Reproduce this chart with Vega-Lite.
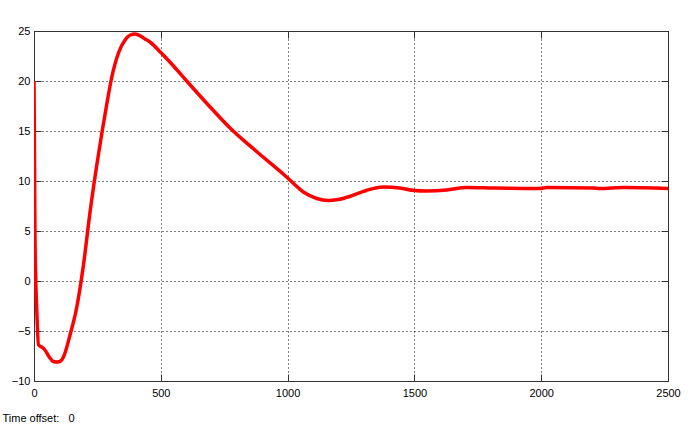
{
  "$schema": "https://vega.github.io/schema/vega-lite/v6.json",
  "width": 634,
  "height": 350,
  "autosize": {"type": "none"},
  "padding": {"left": 34, "top": 31, "right": 23, "bottom": 50},
  "background": "white",
  "data": {
    "values": [
      {"t": 0, "v": 20},
      {"t": 1.2, "v": 15.9},
      {"t": 2.8, "v": 8.6},
      {"t": 4, "v": 3.9},
      {"t": 10.6, "v": -2.7},
      {"t": 18, "v": -6.4},
      {"t": 30, "v": -6.6},
      {"t": 43, "v": -6.9},
      {"t": 60, "v": -7.6},
      {"t": 76, "v": -8.05},
      {"t": 90, "v": -8.1},
      {"t": 102, "v": -8.05},
      {"t": 116, "v": -7.6},
      {"t": 142, "v": -5.4},
      {"t": 168, "v": -2.7},
      {"t": 195, "v": 1.6},
      {"t": 221, "v": 6.9},
      {"t": 247, "v": 11.5},
      {"t": 267, "v": 14.7},
      {"t": 287, "v": 17.7},
      {"t": 306, "v": 20.3},
      {"t": 333, "v": 22.8},
      {"t": 359, "v": 24.1},
      {"t": 380, "v": 24.6},
      {"t": 398, "v": 24.7},
      {"t": 420, "v": 24.5},
      {"t": 438, "v": 24.2},
      {"t": 457, "v": 23.9},
      {"t": 500, "v": 22.85},
      {"t": 550, "v": 21.5},
      {"t": 602, "v": 20.0},
      {"t": 680, "v": 17.8},
      {"t": 773, "v": 15.3},
      {"t": 880, "v": 12.9},
      {"t": 996, "v": 10.4},
      {"t": 1062, "v": 8.9},
      {"t": 1115, "v": 8.25},
      {"t": 1160, "v": 8.05},
      {"t": 1200, "v": 8.15},
      {"t": 1250, "v": 8.5},
      {"t": 1310, "v": 9.05},
      {"t": 1377, "v": 9.4},
      {"t": 1443, "v": 9.3},
      {"t": 1500, "v": 9.05},
      {"t": 1548, "v": 9.0},
      {"t": 1627, "v": 9.1},
      {"t": 1706, "v": 9.35},
      {"t": 1811, "v": 9.3},
      {"t": 1995, "v": 9.25},
      {"t": 2022, "v": 9.35},
      {"t": 2206, "v": 9.3},
      {"t": 2232, "v": 9.25},
      {"t": 2324, "v": 9.35},
      {"t": 2500, "v": 9.25}
    ]
  },
  "layer": [
    {
      "mark": {
        "type": "line",
        "color": "#ff0000",
        "strokeWidth": 3.5,
        "interpolate": "monotone",
        "clip": true
      },
      "encoding": {
        "x": {
          "field": "t",
          "type": "quantitative",
          "scale": {"domain": [0, 2500], "nice": false},
          "axis": {
            "orient": "bottom",
            "values": [0, 500, 1000, 1500, 2000, 2500],
            "format": "d",
            "grid": true,
            "title": "Time offset:\u00a0\u00a0 0",
            "titleX": -32,
            "titleY": 37,
            "titleAlign": "left",
            "titleBaseline": "middle",
            "titleFontWeight": "normal",
            "titleFontSize": 11,
            "labelPadding": 13
          }
        },
        "y": {
          "field": "v",
          "type": "quantitative",
          "scale": {"domain": [-10, 25], "nice": false},
          "axis": {
            "orient": "left",
            "values": [-10, -5, 0, 5, 10, 15, 20, 25],
            "format": "d",
            "grid": true,
            "title": null,
            "labelPadding": 11
          }
        }
      }
    },
    {
      "mark": {"type": "line", "opacity": 0},
      "encoding": {
        "x": {
          "field": "t",
          "type": "quantitative",
          "axis": {
            "orient": "top",
            "values": [0, 500, 1000, 1500, 2000, 2500],
            "labels": false,
            "grid": false,
            "title": null
          }
        },
        "y": {
          "field": "v",
          "type": "quantitative",
          "axis": {
            "orient": "right",
            "values": [-10, -5, 0, 5, 10, 15, 20, 25],
            "labels": false,
            "grid": false,
            "title": null
          }
        }
      }
    }
  ],
  "resolve": {"axis": {"x": "independent", "y": "independent"}},
  "config": {
    "view": {"stroke": "#333333", "strokeWidth": 1},
    "axis": {
      "domainColor": "#333333",
      "domainWidth": 1,
      "tickColor": "#333333",
      "tickSize": -7,
      "tickWidth": 1,
      "gridColor": "#000000",
      "gridOpacity": 1,
      "gridDash": [1, 3],
      "gridWidth": 1,
      "labelFont": "Liberation Sans",
      "labelFontSize": 11,
      "labelColor": "#000000",
      "labelFlush": false,
      "labelOverlap": false,
      "titleFont": "Liberation Sans",
      "titleColor": "#000000"
    }
  }
}
